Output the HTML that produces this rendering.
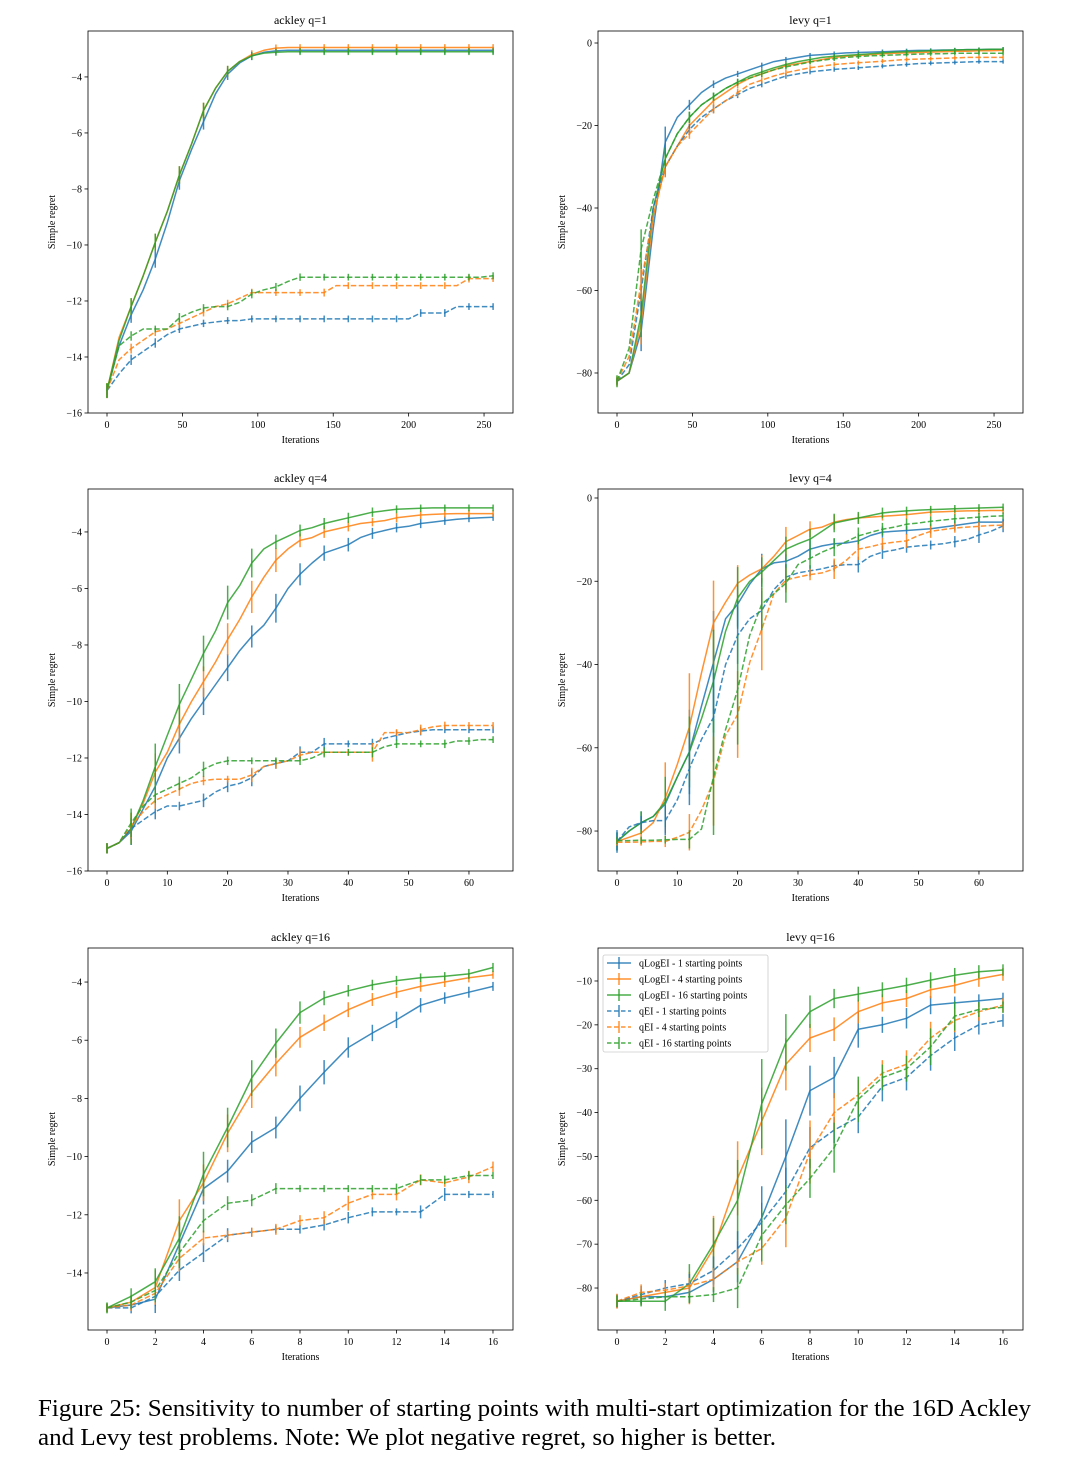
<!DOCTYPE html>
<html><head><meta charset="utf-8"><style>
html,body{margin:0;padding:0;background:#fff;}
svg text{font-family:"Liberation Serif","DejaVu Serif",serif;fill:#000;}
</style></head><body>
<svg id="fig" width="1080" height="1461" viewBox="0 0 1080 1461" xmlns="http://www.w3.org/2000/svg">
<text x="38" y="1416" font-size="24" textLength="993" lengthAdjust="spacingAndGlyphs">Figure 25: Sensitivity to number of starting points with multi-start optimization for the 16D Ackley</text>
<text x="38" y="1445" font-size="24" textLength="738" lengthAdjust="spacingAndGlyphs">and Levy test problems. Note: We plot negative regret, so higher is better.</text>
</svg>
<script>
// ---------- data ----------
const q1_x = [0,8,16,24,32,40,48,56,64,72,80,88,96,104,112,120,128,136,144,152,160,168,176,184,192,200,208,216,224,232,240,248,256];
const q4_x = [0,2,4,6,8,10,12,14,16,18,20,22,24,26,28,30,32,34,36,38,40,42,44,46,48,50,52,54,56,58,60,62,64];
const q16_x = [0,1,2,3,4,5,6,7,8,9,10,11,12,13,14,15,16];

const a1_logei1 = [-15.2,-13.6,-12.5,-11.6,-10.5,-9.2,-7.7,-6.6,-5.6,-4.6,-3.9,-3.5,-3.25,-3.12,-3.07,-3.05,-3.05,-3.05,-3.05,-3.05,-3.05,-3.05,-3.05,-3.05,-3.05,-3.05,-3.05,-3.05,-3.05,-3.05,-3.05,-3.05,-3.05];
const a1_logei4 = [-15.2,-13.3,-12.2,-11.1,-9.9,-8.8,-7.5,-6.4,-5.2,-4.4,-3.8,-3.45,-3.2,-3.05,-2.97,-2.95,-2.95,-2.95,-2.95,-2.95,-2.95,-2.95,-2.95,-2.95,-2.95,-2.95,-2.95,-2.95,-2.95,-2.95,-2.95,-2.95,-2.95];
const a1_logei16 = [-15.2,-13.4,-12.2,-11.1,-9.9,-8.8,-7.5,-6.4,-5.2,-4.4,-3.8,-3.45,-3.25,-3.15,-3.12,-3.1,-3.1,-3.1,-3.1,-3.1,-3.1,-3.1,-3.1,-3.1,-3.1,-3.1,-3.1,-3.1,-3.1,-3.1,-3.1,-3.1,-3.1];
const a1_ei1 = [-15.2,-14.6,-14.1,-13.8,-13.5,-13.2,-13.0,-12.9,-12.8,-12.75,-12.7,-12.7,-12.64,-12.64,-12.64,-12.64,-12.64,-12.64,-12.64,-12.64,-12.64,-12.64,-12.64,-12.64,-12.64,-12.64,-12.43,-12.43,-12.43,-12.2,-12.2,-12.2,-12.2];
const a1_ei4 = [-15.2,-14.1,-13.7,-13.4,-13.1,-13.0,-12.8,-12.6,-12.4,-12.2,-12.1,-11.9,-11.7,-11.7,-11.7,-11.7,-11.7,-11.7,-11.7,-11.45,-11.45,-11.45,-11.45,-11.45,-11.45,-11.45,-11.45,-11.45,-11.45,-11.45,-11.2,-11.2,-11.2];
const a1_ei16 = [-15.2,-13.6,-13.25,-13.0,-13.0,-13.0,-12.6,-12.4,-12.25,-12.2,-12.2,-12.05,-11.75,-11.6,-11.5,-11.3,-11.15,-11.15,-11.15,-11.15,-11.15,-11.15,-11.15,-11.15,-11.15,-11.15,-11.15,-11.15,-11.15,-11.15,-11.15,-11.15,-11.1];

const l1_logei1 = [-82,-80,-70,-45,-24,-18,-15,-12,-10,-8.5,-7.5,-6.5,-5.5,-4.5,-4,-3.5,-3,-2.8,-2.6,-2.4,-2.3,-2.2,-2.1,-2,-1.9,-1.8,-1.8,-1.7,-1.7,-1.6,-1.6,-1.5,-1.5];
const l1_logei4 = [-82,-80,-68,-42,-30,-25,-20,-17,-14,-12,-10,-8.5,-7.5,-6.5,-5.5,-5,-4.5,-4,-3.5,-3.2,-3,-2.8,-2.6,-2.5,-2.4,-2.3,-2.2,-2.1,-2,-2,-1.9,-1.9,-1.8];
const l1_logei16 = [-82,-80,-66,-40,-28,-22,-18,-15,-13,-11,-9.5,-8,-7,-6,-5.2,-4.5,-4,-3.5,-3.2,-3,-2.8,-2.6,-2.4,-2.2,-2.1,-2,-1.9,-1.8,-1.7,-1.6,-1.6,-1.5,-1.5];
const l1_ei1 = [-82,-78,-60,-40,-30,-25,-21,-18,-16,-14,-12.5,-11,-10,-9,-8,-7.5,-7,-6.7,-6.4,-6.2,-6,-5.8,-5.6,-5.4,-5.2,-5,-4.9,-4.8,-4.7,-4.6,-4.5,-4.5,-4.5];
const l1_ei4 = [-82,-76,-58,-42,-30,-25,-22,-19,-16,-14,-12,-10,-9,-8,-7.2,-6.6,-6,-5.6,-5.2,-5,-4.8,-4.6,-4.4,-4.2,-4,-3.9,-3.8,-3.7,-3.6,-3.5,-3.5,-3.5,-3.5];
const l1_ei16 = [-82,-74,-50,-38,-28,-22,-18,-15,-13,-11,-9.5,-8.5,-7.5,-6.5,-5.8,-5.2,-4.6,-4.2,-3.8,-3.5,-3.3,-3.1,-3,-2.9,-2.8,-2.7,-2.6,-2.6,-2.5,-2.5,-2.5,-2.5,-2.5];

const a4_logei1 = [-15.2,-15.0,-14.6,-13.8,-13.0,-12.0,-11.3,-10.6,-10.0,-9.4,-8.8,-8.2,-7.7,-7.3,-6.7,-6.0,-5.5,-5.1,-4.75,-4.6,-4.45,-4.2,-4.05,-3.95,-3.85,-3.8,-3.7,-3.65,-3.6,-3.55,-3.52,-3.5,-3.48];
const a4_logei4 = [-15.2,-15.0,-14.5,-13.6,-12.5,-11.8,-10.8,-10.0,-9.3,-8.6,-7.8,-7.1,-6.3,-5.6,-5.0,-4.6,-4.3,-4.2,-4.0,-3.9,-3.8,-3.7,-3.65,-3.6,-3.5,-3.45,-3.4,-3.38,-3.36,-3.35,-3.35,-3.35,-3.35];
const a4_logei16 = [-15.2,-15.0,-14.5,-13.5,-12.3,-11.2,-10.1,-9.2,-8.3,-7.5,-6.5,-5.9,-5.1,-4.6,-4.35,-4.15,-3.95,-3.85,-3.7,-3.6,-3.5,-3.4,-3.3,-3.25,-3.2,-3.18,-3.16,-3.15,-3.15,-3.15,-3.15,-3.15,-3.15];
const a4_ei1 = [-15.2,-15.0,-14.5,-14.2,-13.9,-13.7,-13.7,-13.6,-13.5,-13.2,-13.0,-12.9,-12.7,-12.3,-12.2,-12.1,-11.8,-11.8,-11.5,-11.5,-11.5,-11.5,-11.5,-11.3,-11.2,-11.1,-11.05,-11.0,-11.0,-11.0,-11.0,-11.0,-11.0];
const a4_ei4 = [-15.2,-15.0,-14.4,-13.9,-13.5,-13.3,-13.1,-12.9,-12.8,-12.75,-12.75,-12.75,-12.6,-12.3,-12.2,-12.1,-11.9,-11.8,-11.8,-11.8,-11.8,-11.8,-11.8,-11.1,-11.1,-11.1,-11.0,-10.9,-10.85,-10.85,-10.85,-10.85,-10.85];
const a4_ei16 = [-15.2,-15.0,-14.3,-13.7,-13.3,-13.1,-12.9,-12.7,-12.4,-12.2,-12.1,-12.1,-12.1,-12.1,-12.1,-12.1,-12.1,-12.0,-11.8,-11.8,-11.8,-11.8,-11.8,-11.6,-11.5,-11.5,-11.5,-11.5,-11.5,-11.4,-11.4,-11.35,-11.35];

const l4_logei1 = [-82.5,-80,-78,-76.5,-73.5,-67,-61,-50,-39.5,-29,-25.5,-20.7,-17,-15.6,-15.2,-14,-12.3,-11.5,-11,-10.8,-10.3,-9,-8.2,-8,-7.8,-7.6,-7.4,-7,-6.6,-6.2,-5.8,-5.8,-5.8];
const l4_logei4 = [-82.5,-81.5,-80.5,-78,-72,-64,-55,-42,-30,-25,-20.5,-18.5,-17,-14,-10.5,-9,-7.5,-7,-5.8,-5.2,-4.8,-4.6,-4.4,-4.2,-4,-3.7,-3.4,-3.3,-3.2,-3.1,-3.05,-3,-3];
const l4_logei16 = [-82.5,-80,-78,-76.5,-73,-67,-61,-53,-44,-32,-24,-20,-17.8,-15,-12.3,-11,-9.9,-8,-6,-5.4,-4.8,-4.2,-3.6,-3.3,-3.1,-2.9,-2.8,-2.7,-2.6,-2.5,-2.4,-2.3,-2.2];
const l4_ei1 = [-82.5,-79,-78,-77.5,-77.5,-72.5,-65,-58,-52.7,-40,-33,-29,-27,-22,-19,-18,-17.5,-17,-16.3,-16,-16,-14,-13,-12.5,-11.8,-11.5,-11.3,-11,-10.5,-10,-8.9,-8,-6.7];
const l4_ei4 = [-82.7,-82.7,-82.6,-82.5,-82.5,-81.5,-80.3,-75,-68,-57,-52,-39.5,-31.5,-23,-19.7,-19,-18.4,-18,-17,-15,-12.3,-11.7,-11,-10.6,-10.3,-9,-8,-7.6,-7.2,-7,-6.8,-6.6,-6.5];
const l4_ei16 = [-82.3,-82.3,-82.2,-82.2,-82.1,-82,-82,-79.5,-67,-55.6,-46,-33,-25.5,-23,-20.5,-16,-14.5,-13,-11.8,-10.5,-9.1,-8.3,-7.5,-7,-6.3,-6,-5.6,-5.3,-5,-4.8,-4.6,-4.4,-4.3];

const a16_logei1 = [-15.2,-15.1,-14.9,-13.0,-11.1,-10.5,-9.5,-9.0,-8.0,-7.1,-6.25,-5.75,-5.3,-4.8,-4.55,-4.35,-4.15];
const a16_logei4 = [-15.2,-15.0,-14.5,-12.2,-10.9,-9.2,-7.8,-6.8,-5.9,-5.4,-4.95,-4.6,-4.35,-4.15,-4.0,-3.85,-3.75];
const a16_logei16 = [-15.2,-14.8,-14.3,-12.8,-10.6,-9.0,-7.3,-6.1,-5.05,-4.55,-4.3,-4.1,-3.95,-3.85,-3.8,-3.72,-3.5];
const a16_ei1 = [-15.2,-15.2,-14.8,-13.9,-13.3,-12.7,-12.6,-12.5,-12.5,-12.35,-12.1,-11.9,-11.9,-11.9,-11.3,-11.3,-11.3];
const a16_ei4 = [-15.2,-15.1,-14.7,-13.5,-12.8,-12.7,-12.6,-12.5,-12.2,-12.1,-11.6,-11.3,-11.3,-10.8,-10.9,-10.7,-10.35];
const a16_ei16 = [-15.2,-15.0,-14.6,-13.3,-12.2,-11.6,-11.5,-11.1,-11.1,-11.1,-11.1,-11.1,-11.1,-10.8,-10.8,-10.65,-10.65];

const l16_logei1 = [-83,-82,-82,-81,-78,-74,-64,-50,-35,-32,-21,-20,-18.5,-15.5,-15,-14.5,-14];
const l16_logei4 = [-83,-82,-81,-80,-71,-55,-42,-29,-23,-21,-17,-15,-14,-12,-11,-9.5,-8.5];
const l16_logei16 = [-83,-83,-83,-79,-70,-60,-38,-24,-17,-14,-13,-12,-11,-9.8,-8.7,-7.9,-7.5];
const l16_ei1 = [-83,-81.5,-80,-79,-76,-71,-65,-58,-48,-44,-41,-34,-32,-27,-23,-20,-19];
const l16_ei4 = [-83,-81,-80.5,-79.5,-78,-74,-71,-64,-49,-40,-36,-31,-29,-23,-19,-17,-15.5];
const l16_ei16 = [-83,-82.5,-82,-82,-81.5,-80,-68,-61,-55,-48,-37,-32,-30,-25,-18,-16.5,-16];

const seriesLabels = ['qLogEI - 1 starting points','qLogEI - 4 starting points','qLogEI - 16 starting points','qEI - 1 starting points','qEI - 4 starting points','qEI - 16 starting points'];
const COLORS = ['#1f77b4','#ff7f0e','#2ca02c','#1f77b4','#ff7f0e','#2ca02c'];

const panels = [
 {name:'ackley-q1',title:'ackley q=1',box:[88,31,513,413],xd:[-12.6,269.2],yd:[-16,-2.36],xs:q1_x,ys:[a1_logei1,a1_logei4,a1_logei16,a1_ei1,a1_ei4,a1_ei16],xt:[0,50,100,150,200,250],yt:[-16,-14,-12,-10,-8,-6,-4],every:2,eb:0.12,ek:0.08},
 {name:'levy-q1',title:'levy q=1',box:[598,31,1023,413],xd:[-12.6,269.2],yd:[-89.7,2.91],xs:q1_x,ys:[l1_logei1,l1_logei4,l1_logei16,l1_ei1,l1_ei4,l1_ei16],xt:[0,50,100,150,200,250],yt:[-80,-60,-40,-20,0],every:2,eb:0.5,ek:0.12},
 {name:'ackley-q4',title:'ackley q=4',box:[88,489,513,871],xd:[-3.15,67.3],yd:[-16,-2.48],xs:q4_x,ys:[a4_logei1,a4_logei4,a4_logei16,a4_ei1,a4_ei4,a4_ei16],xt:[0,10,20,30,40,50,60],yt:[-16,-14,-12,-10,-8,-6,-4],every:2,eb:0.12,ek:0.3},
 {name:'levy-q4',title:'levy q=4',box:[598,489,1023,871],xd:[-3.15,67.3],yd:[-89.6,2.16],xs:q4_x,ys:[l4_logei1,l4_logei4,l4_logei16,l4_ei1,l4_ei4,l4_ei16],xt:[0,10,20,30,40,50,60],yt:[-80,-60,-40,-20,0],every:2,eb:0.8,ek:0.55},
 {name:'ackley-q16',title:'ackley q=16',box:[88,948,513,1330],xd:[-0.788,16.83],yd:[-15.96,-2.83],xs:q16_x,ys:[a16_logei1,a16_logei4,a16_logei16,a16_ei1,a16_ei4,a16_ei16],xt:[0,2,4,6,8,10,12,14,16],yt:[-14,-12,-10,-8,-6,-4],every:1,eb:0.12,ek:0.17},
 {name:'levy-q16',title:'levy q=16',box:[598,948,1023,1330],xd:[-0.788,16.83],yd:[-89.57,-2.48],xs:q16_x,ys:[l16_logei1,l16_logei4,l16_logei16,l16_ei1,l16_ei4,l16_ei16],xt:[0,2,4,6,8,10,12,14,16],yt:[-80,-70,-60,-50,-40,-30,-20,-10],every:1,eb:1.2,ek:0.25,legend:true}
];

// ---------- drawing ----------
const NS='http://www.w3.org/2000/svg';
const svg=document.getElementById('fig');
function mk(tag,attrs,parent){const e=document.createElementNS(NS,tag);for(const k in attrs)e.setAttribute(k,attrs[k]);(parent||svg).appendChild(e);return e;}
function fmt(v){return v<0?'\u2212'+Math.abs(v):String(v);}

panels.forEach(p=>{
  const [L,T,R,B]=p.box;
  const g=mk('g',{});
  
  
  const sx=v=>L+(v-p.xd[0])/(p.xd[1]-p.xd[0])*(R-L);
  const sy=v=>B-(v-p.yd[0])/(p.yd[1]-p.yd[0])*(B-T);
  const clip=mk('clipPath',{id:'c-'+p.name},g);
  mk('rect',{x:L,y:T,width:R-L,height:B-T},clip);
  p.ys.forEach((ys,si)=>{
    const sg=mk('g',{'clip-path':'url(#c-'+p.name+')','stroke-opacity':0.85},g);
    
    
    const pts=ys.map((v,i)=>sx(p.xs[i]).toFixed(1)+','+sy(v).toFixed(1)).join(' ');
    const line=mk('polyline',{points:pts,fill:'none',stroke:COLORS[si],'stroke-width':1.5,'stroke-linejoin':'round','stroke-dasharray':si>=3?'5.5,2.4':'none'},sg);
    
    
    ys.forEach((v,i)=>{
      if(i%p.every!==0)return;
      const prev=ys[Math.max(0,i-1)],next=ys[Math.min(ys.length-1,i+1)];
      const e=p.eb+p.ek*Math.abs(next-prev);
      const bar=mk('line',{x1:sx(p.xs[i]),x2:sx(p.xs[i]),y1:sy(v+e),y2:sy(v-e),stroke:COLORS[si],'stroke-width':1.5},sg);
      
      
    });
  });
  const fr=mk('rect',{x:L,y:T,width:R-L,height:B-T,fill:'none',stroke:'#000','stroke-width':0.8},g);
  
  
  p.xt.forEach(t=>{
    const x=sx(t);
    mk('line',{x1:x,x2:x,y1:B,y2:B+3.5,stroke:'#000','stroke-width':0.8},g);
    const tx=mk('text',{x:x,y:B+15,'font-size':10,'text-anchor':'middle'},g);
    tx.textContent=fmt(t);
    
    
  });
  p.yt.forEach(t=>{
    const y=sy(t);
    mk('line',{x1:L-3.5,x2:L,y1:y,y2:y,stroke:'#000','stroke-width':0.8},g);
    const tx=mk('text',{x:L-6,y:y+3.5,'font-size':10,'text-anchor':'end'},g);
    tx.textContent=fmt(t);
    
    
  });
  const ti=mk('text',{x:(L+R)/2,y:T-7,'font-size':12,'text-anchor':'middle'},g);
  ti.textContent=p.title;
  
  
  const xl=mk('text',{x:(L+R)/2,y:B+30,'font-size':10,'text-anchor':'middle'},g);
  xl.textContent='Iterations';
  
  
  const yc=(T+B)/2;
  const yl=mk('text',{x:L-33,y:yc,'font-size':10,'text-anchor':'middle',transform:'rotate(-90 '+(L-33)+' '+yc+')'},g);
  yl.textContent='Simple regret';
  
  
  if(p.legend){
    const lg=mk('g',{},g);
    
    
    mk('rect',{x:603,y:955,width:165,height:97,rx:2,fill:'#fff','fill-opacity':0.85,stroke:'#ccc','stroke-width':0.8},lg);
    seriesLabels.forEach((lab,i)=>{
      const y=963+i*16;
      const en=mk('g',{'stroke-opacity':0.85},lg);
      
      
      mk('line',{x1:607,x2:631,y1:y,y2:y,stroke:COLORS[i],'stroke-width':1.5,'stroke-dasharray':i>=3?'4.5,2.5':'none'},en);
      mk('line',{x1:619,x2:619,y1:y-6,y2:y+6,stroke:COLORS[i],'stroke-width':1.5},en);
      const t=mk('text',{x:639,y:y+3.5,'font-size':10},en);
      t.textContent=lab;
    });
  }
});
</script>
</body></html>
